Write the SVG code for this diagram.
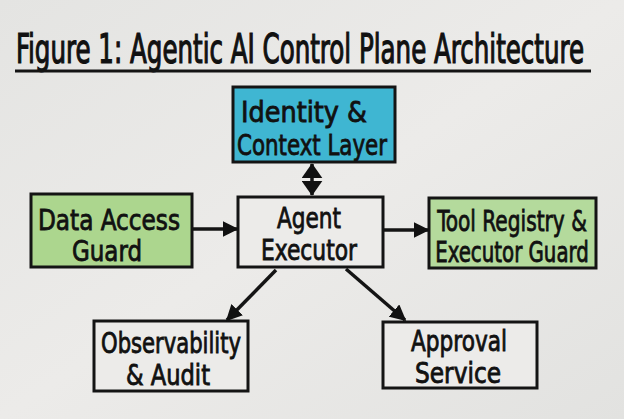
<svg xmlns="http://www.w3.org/2000/svg" width="624" height="419" viewBox="0 0 624 419">
<defs>
<linearGradient id="bg" x1="0" y1="0" x2="1" y2="1">
<stop offset="0" stop-color="#e4e4e2"/>
<stop offset="0.5" stop-color="#ecebe9"/>
<stop offset="1" stop-color="#e2e2e0"/>
</linearGradient>
<marker id="ah" viewBox="0 0 10 10" refX="9" refY="5" markerWidth="4.6" markerHeight="4.6" orient="auto-start-reverse" markerUnits="strokeWidth">
<path d="M0,0 L10,5 L0,10 Z" fill="#111"/>
</marker>
<marker id="dh" viewBox="0 0 10 14" refX="9.5" refY="7" markerWidth="4.3" markerHeight="6" orient="auto-start-reverse" markerUnits="strokeWidth">
<path d="M0,0 L10,7 L0,14 Z" fill="#111"/>
</marker>
<style>
.box{stroke:#141414;stroke-width:3;}
.t{font-family:"DejaVu Sans Condensed","Liberation Sans Narrow","Liberation Sans",sans-serif;fill:#111;stroke:#111;stroke-width:0.8;text-anchor:middle;font-size:29px;}
.s{font-size:27.5px;}
.c{stroke:#141414;stroke-width:3.5;fill:none;marker-end:url(#ah);}
</style>
</defs>
<rect width="624" height="419" fill="url(#bg)"/>
<g id="title">
<text transform="translate(300,63) scale(0.6,1)" x="0" y="0" font-family="'DejaVu Sans Condensed','Liberation Sans Narrow','Liberation Sans',sans-serif" font-size="40" fill="#111" stroke="#111" stroke-width="1.2" textLength="947" lengthAdjust="spacingAndGlyphs" text-anchor="middle">Figure 1: Agentic AI Control Plane Architecture</text>
<line x1="15" y1="71" x2="591" y2="71" stroke="#141414" stroke-width="3"/>
</g>
<g id="identity">
<rect class="box" x="233" y="87" width="162" height="75" fill="#3fb6d2"/>
<text class="t" x="304" y="122" textLength="126" lengthAdjust="spacingAndGlyphs">Identity &amp;</text>
<text class="t" x="312" y="155" textLength="150" lengthAdjust="spacingAndGlyphs">Context Layer</text>
</g>
<g id="executor">
<rect class="box" x="238" y="197" width="145" height="70" fill="#ecebe9"/>
<text class="t" x="309" y="228" textLength="64" lengthAdjust="spacingAndGlyphs">Agent</text>
<text class="t" x="309" y="260" textLength="96" lengthAdjust="spacingAndGlyphs">Executor</text>
</g>
<g id="data-access">
<rect class="box" x="31" y="194" width="161" height="73" fill="#acd68e"/>
<text class="t" x="109" y="230" textLength="142" lengthAdjust="spacingAndGlyphs">Data Access</text>
<text class="t" x="107" y="261" textLength="70" lengthAdjust="spacingAndGlyphs">Guard</text>
</g>
<g id="tool-registry">
<rect class="box" x="429" y="198" width="167" height="70" fill="#b4da9c"/>
<text class="t" transform="translate(512,231) scale(0.78,1)" x="0" y="0" textLength="192" lengthAdjust="spacingAndGlyphs">Tool Registry &amp;</text>
<text class="t" transform="translate(512,262) scale(0.78,1)" x="0" y="0" textLength="197" lengthAdjust="spacingAndGlyphs">Executor Guard</text>
</g>
<g id="observability">
<rect class="box" x="94" y="321" width="154" height="70" fill="#ecebe9"/>
<text class="t s" x="171" y="353" textLength="140" lengthAdjust="spacingAndGlyphs">Observability</text>
<text class="t s" x="168" y="385" textLength="84" lengthAdjust="spacingAndGlyphs">&amp; Audit</text>
</g>
<g id="approval">
<rect class="box" x="383" y="322" width="154" height="66" fill="#ecebe9"/>
<text class="t s" x="459" y="351" textLength="96" lengthAdjust="spacingAndGlyphs">Approval</text>
<text class="t s" x="458" y="383" textLength="86" lengthAdjust="spacingAndGlyphs">Service</text>
</g>
<g id="connectors">
<line x1="312" y1="164" x2="312" y2="195" stroke="#141414" stroke-width="3.5" marker-start="url(#dh)" marker-end="url(#dh)"/>
<line class="c" x1="192" y1="229" x2="237" y2="229"/>
<line class="c" x1="383" y1="230" x2="428" y2="230"/>
<line class="c" x1="276" y1="270" x2="227" y2="320"/>
<line class="c" x1="346" y1="269" x2="405" y2="320"/>
</g>
</svg>
